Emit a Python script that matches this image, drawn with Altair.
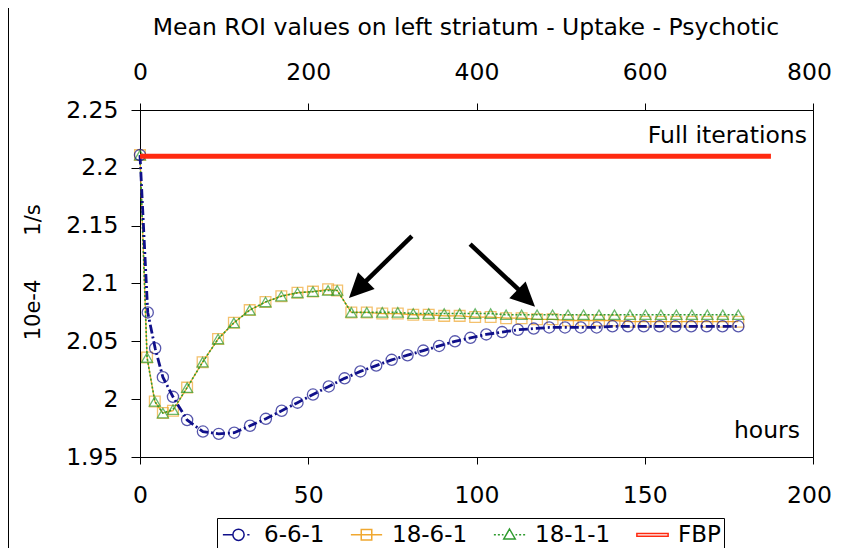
import altair as alt
import pandas as pd

TITLE = "Mean ROI values on left striatum - Uptake - Psychotic"
Y_TITLE_A = "10e-4"
Y_TITLE_B = "1/s"
TOP_NOTE = "Full iterations"
BOTTOM_NOTE = "hours"

series_names = ["6-6-1", "18-6-1", "18-1-1", "FBP"]
series_colors = ["#10108a", "#f0a830", "#2e9b2e", "#ff2a10"]

# 6-6-1 (hours / value)
hours_661 = [0, 2.3, 4.5, 6.8, 9.8, 14.0, 18.7, 23.4, 28.0, 32.7, 37.4, 42.1, 46.8,
             51.4, 56.1, 60.8, 65.5, 70.2, 74.8, 79.5, 84.2, 88.9, 93.6, 98.2,
             102.9, 107.6, 112.3, 117.0, 121.6, 126.3, 131.0, 135.7, 140.4, 145.0,
             149.7, 154.4, 159.1, 163.8, 168.4, 173.1, 177.8]
vals_661 = [2.211, 2.075, 2.044, 2.019, 2.002, 1.982, 1.972, 1.970, 1.971, 1.977,
            1.983, 1.990, 1.997, 2.004, 2.011, 2.018, 2.024, 2.029, 2.034, 2.038,
            2.042, 2.046, 2.050, 2.053, 2.056, 2.058, 2.060, 2.061, 2.062, 2.062,
            2.062, 2.062, 2.063, 2.063, 2.063, 2.063, 2.063, 2.063, 2.063, 2.063,
            2.063]

# 18-6-1 and 18-1-1 share the same time points
hours_18 = [0, 2.1, 4.4, 6.8, 9.8, 14.0, 18.6, 23.2, 27.9, 32.6, 37.3, 42.0, 46.8,
            51.4, 55.9, 58.6, 62.8, 67.4, 72.0, 76.6, 81.2, 85.8, 90.4, 95.0, 99.6,
            104.2, 108.8, 113.4, 118.0, 122.6, 127.2, 131.8, 136.4, 141.0, 145.6,
            150.2, 154.8, 159.4, 164.0, 168.6, 173.2, 177.8]
vals_1861 = [2.211, 2.036, 1.998, 1.988, 1.990, 2.010, 2.032, 2.052, 2.066, 2.077,
             2.084, 2.089, 2.092, 2.093, 2.095, 2.094,
             2.075, 2.075, 2.074, 2.074, 2.073, 2.073, 2.072, 2.072, 2.071, 2.071,
             2.070, 2.070, 2.069, 2.069, 2.068, 2.068, 2.068, 2.068, 2.067, 2.067,
             2.067, 2.067, 2.067, 2.067, 2.067, 2.067]
vals_1811 = [2.211, 2.036, 1.998, 1.988, 1.991, 2.010, 2.032, 2.052, 2.066, 2.077,
             2.084, 2.089, 2.092, 2.093, 2.094, 2.094,
             2.075, 2.075, 2.075, 2.075, 2.074, 2.074, 2.074, 2.074, 2.074, 2.074,
             2.073, 2.073, 2.073, 2.073, 2.073, 2.073, 2.073, 2.073, 2.073, 2.073,
             2.073, 2.073, 2.073, 2.073, 2.073, 2.073]

# FBP on the iteration (top) axis
fbp_iter = [0, 750]
fbp_vals = [2.21, 2.21]

hour_ticks = [0, 50, 100, 150, 200]
iter_ticks = [0, 200, 400, 600, 800]
y_ticks = [1.95, 2.0, 2.05, 2.1, 2.15, 2.2, 2.25]

# annotation arrows (hours / value)
arrow_x0 = [80.8, 98.1]
arrow_y0 = [2.141, 2.134]
arrow_x1 = [65.0, 114.6]
arrow_y1 = [2.096, 2.089]
tip_x = [62.1, 117.4]
tip_y = [2.0875, 2.0798]
tip_angle = [225, 134]

FONT = "DejaVu Sans"
FS = 23.5

legend_paths = [
    "M-1.25,0L-0.45,0M0.45,0A0.45,0.45 0 1,1 -0.45,0A0.45,0.45 0 1,1 0.45,0M0.7,0L0.88,0",
    "M-1.25,0L1.25,0M-0.42,-0.42L0.42,-0.42L0.42,0.42L-0.42,0.42Z",
    "M-1.25,0L-1.09,0M-0.93,0L-0.77,0M-0.61,0L-0.48,0M0.48,0L0.61,0M0.77,0L0.93,0M1.09,0L1.25,0"
    "M0,-0.46L0.46,0.34L-0.46,0.34Z",
    "M-1.25,-0.11L1.25,-0.11L1.25,0.11L-1.25,0.11Z",
]
ARROW_HEAD = "M0,0L-0.48,1L0.48,1Z"

df661 = pd.DataFrame({"h": hours_661, "v": vals_661})
df1861 = pd.DataFrame({"h": hours_18, "v": vals_1861})
df1811 = pd.DataFrame({"h": hours_18, "v": vals_1811})
dffbp = pd.DataFrame({"it": fbp_iter, "v": fbp_vals})
dfarrow = pd.DataFrame({"x0": arrow_x0, "y0": arrow_y0, "x1": arrow_x1, "y1": arrow_y1,
                        "tx": tip_x, "ty": tip_y, "ang": tip_angle})
dflegend = pd.DataFrame({"series": series_names})
one = pd.DataFrame({"k": [0]})

xs = alt.Scale(domain=[0, 200], nice=False, zero=False)
xi = alt.Scale(domain=[0, 800], nice=False, zero=False)
ys = alt.Scale(domain=[1.95, 2.25], nice=False, zero=False)

x_axis = alt.Axis(orient="bottom", values=hour_ticks, format="d", title=None,
                  tickSize=7, labelPadding=31, labelBaseline="middle", grid=False,
                  labelFlush=False, labelOverlap=False,
                  labelOffset={"condition": {"test": "datum.value == 200", "value": -4},
                               "value": 0})
top_axis = alt.Axis(orient="top", values=iter_ticks, format="d", title=None,
                    tickSize=7, labelPadding=31, labelBaseline="middle", grid=False,
                    labelFlush=False, labelOverlap=False,
                    labelOffset={"condition": {"test": "datum.value == 800", "value": -4},
                                 "value": 0})
y_axis = alt.Axis(values=y_ticks, format="~g", title=None, tickSize=9, labelPadding=13,
                  grid=False, labelOverlap=False)

X = lambda f: alt.X(f, type="quantitative", scale=xs, axis=x_axis)
Y = lambda f: alt.Y(f, type="quantitative", scale=ys, axis=y_axis)

frame = alt.Chart(one).mark_rect(fill="transparent", stroke="black", strokeWidth=1).encode(
    x=alt.value(-131.5), x2=alt.value(760), y=alt.value(-102.5), y2=alt.value(500))

l1861 = alt.Chart(df1861).mark_line(color=series_colors[1], strokeWidth=1.3).encode(
    x=X("h"), y=Y("v"))
p1861 = alt.Chart(df1861).mark_point(shape="square", filled=False, size=115,
                                     color=series_colors[1], strokeWidth=1.3).encode(
    x=X("h"), y=Y("v"))
l1811 = alt.Chart(df1811).mark_line(color=series_colors[2], strokeWidth=1.6,
                                    strokeDash=[2, 2]).encode(x=X("h"), y=Y("v"))
p1811 = alt.Chart(df1811).mark_point(shape="triangle-up", filled=False, size=120,
                                     color=series_colors[2], strokeWidth=1.3).encode(
    x=X("h"), y=Y("v"))
l661 = alt.Chart(df661).mark_line(color=series_colors[0], strokeWidth=2.8,
                                  strokeDash=[9, 3, 2, 3]).encode(x=X("h"), y=Y("v"))
p661 = alt.Chart(df661).mark_point(shape="circle", filled=False, size=125,
                                   color=series_colors[0], strokeWidth=1.3).encode(
    x=X("h"), y=Y("v"))

shafts = alt.Chart(dfarrow).mark_rule(color="black", strokeWidth=4.5).encode(
    x=X("x0"), y=Y("y0"), x2="x1", y2="y1")
heads = alt.Chart(dfarrow).mark_point(shape=ARROW_HEAD, filled=True, color="black",
                                      size=2400, opacity=1).encode(
    x=X("tx"), y=Y("ty"), angle=alt.Angle("ang:Q", scale=None))

title_txt = alt.Chart(one).mark_text(text=TITLE, fontSize=FS, font=FONT, align="center",
                                     baseline="alphabetic", color="black").encode(
    x=alt.value(326), y=alt.value(-75))
ytitle_a = alt.Chart(one).mark_text(text=Y_TITLE_A, fontSize=21, font=FONT, align="center",
                                    baseline="middle", angle=270, color="black").encode(
    x=alt.value(-106), y=alt.value(200))
ytitle_b = alt.Chart(one).mark_text(text=Y_TITLE_B, fontSize=21, font=FONT, align="center",
                                    baseline="middle", angle=270, color="black").encode(
    x=alt.value(-106), y=alt.value(110))
top_note = alt.Chart(one).mark_text(text=TOP_NOTE, fontSize=FS, font=FONT, align="right",
                                    baseline="alphabetic", color="black").encode(
    x=alt.value(667), y=alt.value(33))
bottom_note = alt.Chart(one).mark_text(text=BOTTOM_NOTE, fontSize=FS, font=FONT,
                                       align="right", baseline="alphabetic",
                                       color="black").encode(
    x=alt.value(660), y=alt.value(328))

legend_def = alt.Legend(orient="none", legendX=77, legendY=408, direction="horizontal",
                        columns=4, title=None, strokeColor="black", fillColor="white",
                        padding=3, symbolSize=625, symbolStrokeWidth=1.5,
                        symbolOffset=5, labelFont=FONT, labelFontSize=23,
                        labelColor="black", labelOffset=12, columnPadding=22,
                        symbolType="circle")
legend_layer = alt.Chart(dflegend).mark_point(filled=False, strokeWidth=1.5, opacity=1).encode(
    x=alt.value(-3000), y=alt.value(-3000),
    color=alt.Color("series:N", scale=alt.Scale(domain=series_names, range=series_colors),
                    legend=legend_def, sort=series_names),
    shape=alt.Shape("series:N", scale=alt.Scale(domain=series_names, range=legend_paths),
                    legend=legend_def, sort=series_names),
)

inner = alt.layer(frame, l1861, p1861, l1811, p1811, l661, p661, shafts, heads,
                  title_txt, ytitle_a, ytitle_b, top_note, bottom_note, legend_layer)

fbp = alt.Chart(dffbp).mark_line(color=series_colors[3], strokeWidth=5).encode(
    x=alt.X("it:Q", scale=xi, axis=top_axis), y=Y("v"))

chart = alt.layer(inner, fbp).resolve_scale(x="independent").properties(
    width=673, height=347,
    autosize=alt.AutoSizeParams(type="none"),
    padding={"left": 132, "top": 102, "right": 20, "bottom": 91},
    background="white",
).configure_view(stroke="black", strokeWidth=1).configure_axis(
    domainColor="black", tickColor="black", labelColor="black", labelFont=FONT,
    labelFontSize=FS, grid=False, domainWidth=1, tickWidth=1,
)

chart.save("out.html", embed_options={"renderer": "svg", "actions": False})
